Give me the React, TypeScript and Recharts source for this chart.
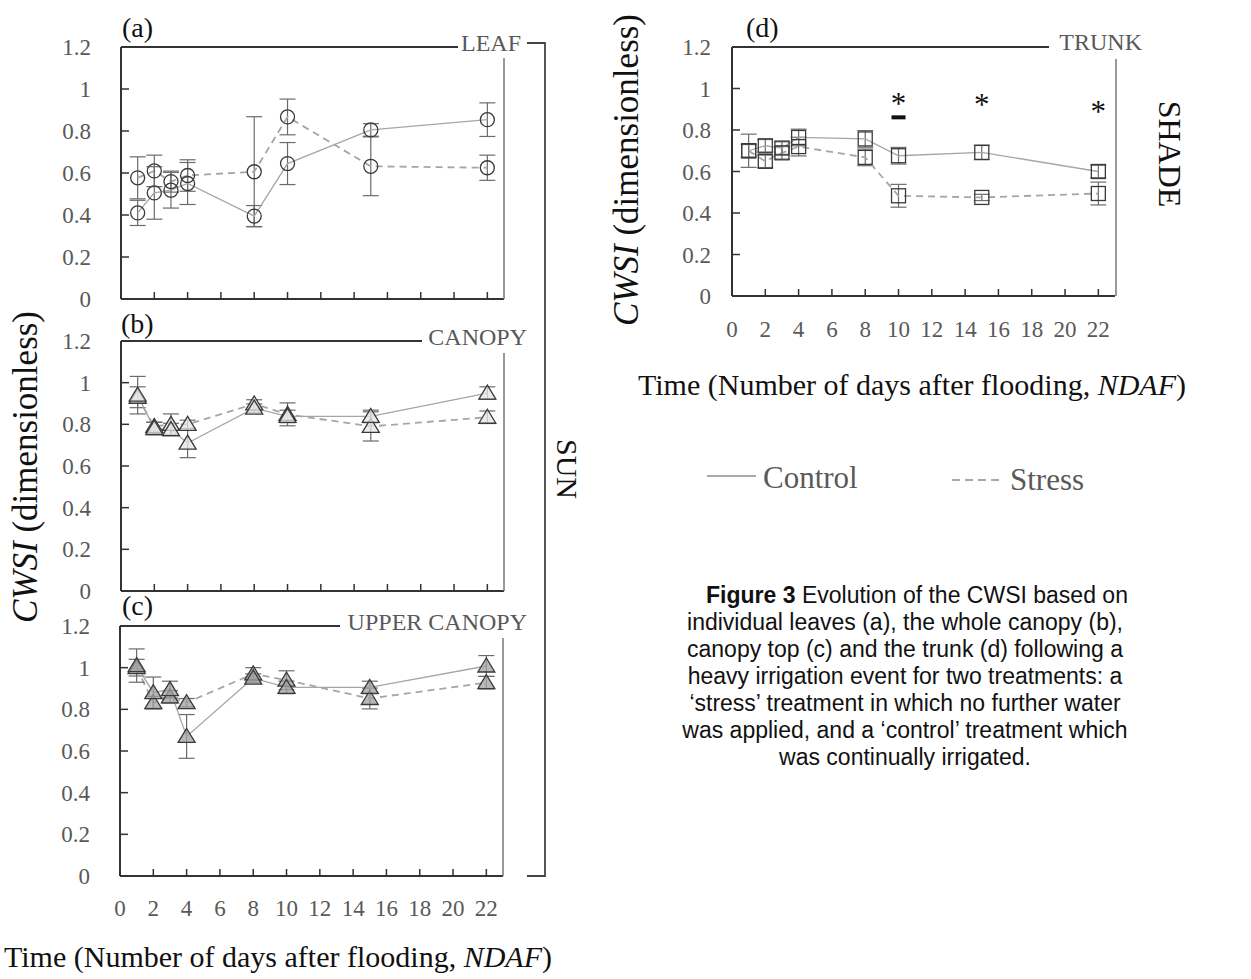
import React from 'react';
import { ComposedChart, Line, Scatter, XAxis, YAxis, ErrorBar } from 'recharts';

// sampling days after flooding
const days = [1, 2, 3, 4, 8, 10, 15, 22];

// (a) leaf
const leafControl = [0.41, 0.505, 0.518, 0.55, 0.395, 0.645, 0.805, 0.854];
const leafControlErr = [0.06, 0.125, 0.085, 0.1, 0.05, 0.1, 0.03, 0.08];
const leafStress = [0.577, 0.61, 0.559, 0.588, 0.606, 0.867, 0.632, 0.625];
const leafStressErr = [0.1, 0.075, 0.05, 0.075, 0.262, 0.085, 0.14, 0.06];

// (b) canopy
const canopyControl = [0.94, 0.78, 0.775, 0.71, 0.878, 0.838, 0.838, 0.95];
const canopyControlErr = [0.09, 0.03, 0.03, 0.07, 0.02, 0.03, 0.03, 0.03];
const canopyStress = [0.93, 0.79, 0.8, 0.8, 0.898, 0.848, 0.79, 0.834];
const canopyStressErr = [0.05, 0.02, 0.05, 0.02, 0.02, 0.055, 0.07, 0.03];

// (c) upper canopy
const upperControl = [1.01, 0.88, 0.895, 0.67, 0.95, 0.905, 0.905, 1.008];
const upperControlErr = [0.08, 0.075, 0.04, 0.105, 0.02, 0.03, 0.03, 0.05];
const upperStress = [1.0, 0.832, 0.86, 0.832, 0.97, 0.94, 0.852, 0.928];
const upperStressErr = [0.04, 0.03, 0.03, 0.02, 0.03, 0.045, 0.05, 0.03];

// (d) trunk
const trunkControl = [0.7, 0.724, 0.713, 0.764, 0.757, 0.676, 0.692, 0.6];
const trunkControlErr = [0.08, 0.03, 0.03, 0.04, 0.04, 0.04, 0.035, 0.03];
const trunkStress = [0.7, 0.649, 0.69, 0.72, 0.668, 0.483, 0.475, 0.494];
const trunkStressErr = [0.03, 0.03, 0.03, 0.045, 0.04, 0.055, 0.015, 0.055];

// significant differences in the trunk panel
const sigDays = [10, 15, 22];
const sigLevel = [0.941, 0.936, 0.9];
const barDays = [10];
const barLevel = [0.861];

const xTicks = [0, 2, 4, 6, 8, 10, 12, 14, 16, 18, 20, 22];
const yTicks = [0, 0.2, 0.4, 0.6, 0.8, 1, 1.2];

const captionLines = [
  'individual leaves (a), the whole canopy (b),',
  'canopy top (c) and the trunk (d) following a',
  'heavy irrigation event for two treatments: a',
  '\u2018stress\u2019 treatment in which no further water',
  'was applied, and a \u2018control\u2019 treatment which',
  'was continually irrigated.',
];

const SERIF = "'Liberation Serif', 'Times New Roman', serif";
const SANS = "'Liberation Sans', Arial, sans-serif";
const AXIS = '#333';
const MARK = '#3a3a3a';
const SERIES = '#a6a6a6';
const TICK_TEXT = '#595959';

const Y_W = 70;
const M_TOP = 20;
const M_RIGHT = 5;
const X_H = 50;
const PLOT_W = 383;
const TM = 10;

type Row = { day: number; control: number; controlErr: number; stress: number; stressErr: number };

const buildRows = (c: number[], ce: number[], s: number[], se: number[]): Row[] =>
  days.map((day, i) => ({ day, control: c[i], controlErr: ce[i], stress: s[i], stressErr: se[i] }));

const leafRows = buildRows(leafControl, leafControlErr, leafStress, leafStressErr);
const canopyRows = buildRows(canopyControl, canopyControlErr, canopyStress, canopyStressErr);
const upperRows = buildRows(upperControl, upperControlErr, upperStress, upperStressErr);
const trunkRows = buildRows(trunkControl, trunkControlErr, trunkStress, trunkStressErr);
const sigRows = sigDays.map((day, i) => ({ day, level: sigLevel[i] }));
const barRows = barDays.map((day, i) => ({ day, level: barLevel[i] }));

type MarkerKind = 'circle' | 'triangle' | 'square';

const renderMarker = (kind: MarkerKind, fill: string) => (p: any) => {
  const { cx, cy, index, dataKey } = p;
  const key = `${dataKey}-${index}`;
  if (cx == null || cy == null) return <g key={key} />;
  if (kind === 'circle') {
    return <circle key={key} cx={cx} cy={cy} r={7} fill="none" stroke={MARK} strokeWidth={1.3} />;
  }
  if (kind === 'triangle') {
    return (
      <polygon
        key={key}
        points={`${cx},${cy - 8} ${cx - 8.5},${cy + 6} ${cx + 8.5},${cy + 6}`}
        fill={fill}
        fillOpacity={0.75}
        stroke={MARK}
        strokeWidth={1.3}
      />
    );
  }
  return <rect key={key} x={cx - 7} y={cy - 7} width={14} height={14} fill="none" stroke={MARK} strokeWidth={1.3} />;
};

// ticks point inwards, labels sit outside the frame
const XTick = ({ x, y, payload, show, labelDrop }: any) => {
  const axisY = y - TM;
  return (
    <g>
      <line x1={x} y1={axisY} x2={x} y2={axisY - 7} stroke={AXIS} strokeWidth={1.5} />
      {show && (
        <text x={x} y={axisY + labelDrop} textAnchor="middle" fontFamily={SERIF} fontSize={23} fill={TICK_TEXT}>
          {payload.value}
        </text>
      )}
    </g>
  );
};

const YTick = ({ x, y, payload, gap }: any) => {
  const axisX = x + TM;
  return (
    <g>
      <line x1={axisX} y1={y} x2={axisX + 8} y2={y} stroke={AXIS} strokeWidth={1.5} />
      <text x={axisX - gap} y={y} dy="0.35em" textAnchor="end" fontFamily={SERIF} fontSize={23} fill={TICK_TEXT}>
        {payload.value}
      </text>
    </g>
  );
};

type PanelProps = {
  rows: Row[];
  marker: MarkerKind;
  fill?: string;
  left: number;
  top: number;
  plotH: number;
  labelGap: number;
  showXLabels?: boolean;
  labelDrop?: number;
  children?: React.ReactNode;
};

const Panel = ({ rows, marker, fill = 'none', left, top, plotH, labelGap, showXLabels = false, labelDrop = 40, children }: PanelProps) => (
  <div style={{ position: 'absolute', left: left - Y_W, top: top - M_TOP }}>
    <ComposedChart
      width={Y_W + PLOT_W + M_RIGHT}
      height={M_TOP + plotH + X_H}
      data={rows}
      margin={{ top: M_TOP, right: M_RIGHT, bottom: 0, left: 0 }}
    >
      <XAxis
        type="number"
        dataKey="day"
        domain={[0, 23]}
        ticks={xTicks}
        interval={0}
        tickSize={0}
        tickMargin={TM}
        height={X_H}
        axisLine={{ stroke: AXIS, strokeWidth: 2 }}
        tick={(p: any) => <XTick {...p} show={showXLabels} labelDrop={labelDrop} />}
      />
      <YAxis
        type="number"
        domain={[0, 1.2]}
        ticks={yTicks}
        interval={0}
        tickSize={0}
        tickMargin={TM}
        width={Y_W}
        axisLine={{ stroke: AXIS, strokeWidth: 2 }}
        tick={(p: any) => <YTick {...p} gap={labelGap} />}
      />
      <Line
        type="linear"
        dataKey="stress"
        stroke={SERIES}
        strokeWidth={1.8}
        strokeDasharray="7 5"
        dot={renderMarker(marker, fill)}
        activeDot={false}
        isAnimationActive={false}
      >
        <ErrorBar dataKey="stressErr" direction="y" width={8} stroke="#6b6b6b" strokeWidth={1.2} />
      </Line>
      <Line
        type="linear"
        dataKey="control"
        stroke={SERIES}
        strokeWidth={1.3}
        dot={renderMarker(marker, fill)}
        activeDot={false}
        isAnimationActive={false}
      >
        <ErrorBar dataKey="controlErr" direction="y" width={8} stroke="#6b6b6b" strokeWidth={1.2} />
      </Line>
      {children}
    </ComposedChart>
  </div>
);

// partial frame lines, the SUN bracket, and the panel captions
const frameLines = [
  'M121,47 H458', 'M504,58 V299',
  'M121,341 H422', 'M504,353 V591',
  'M120,626 H340', 'M503,638 V876',
  'M732,47 H1049', 'M1116,59 V296',
];

const Overlay = () => (
  <svg width={1251} height={979} style={{ position: 'absolute', left: 0, top: 0, pointerEvents: 'none' }}>
    {frameLines.map((d) => (
      <path key={d} d={d} stroke={d.includes('V') ? '#777' : AXIS} strokeWidth={d.includes('V') ? 1.5 : 1.8} fill="none" />
    ))}
    <path d="M527,43 H545 V876 H527" stroke="#444" strokeWidth={1.8} fill="none" />

    <g fontFamily={SERIF} fontSize={28} fill="#111">
      <text x={122} y={37}>(a)</text>
      <text x={121} y={333}>(b)</text>
      <text x={122} y={615}>(c)</text>
      <text x={746} y={37}>(d)</text>
    </g>
    <g fontFamily={SERIF} fontSize={24} fill={TICK_TEXT} textAnchor="end">
      <text x={521} y={51}>LEAF</text>
      <text x={527} y={345}>CANOPY</text>
      <text x={527} y={630}>UPPER CANOPY</text>
      <text x={1142} y={50}>TRUNK</text>
    </g>
    <g fontFamily={SERIF} fill="#111" textAnchor="middle">
      <text transform="translate(557,469) rotate(90)" fontSize={30}>SUN</text>
      <text transform="translate(1159,154) rotate(90)" fontSize={32}>SHADE</text>
      <text transform="translate(37,467) rotate(-90)" fontSize={35}>
        <tspan fontStyle="italic">CWSI</tspan> (dimensionless)
      </text>
      <text transform="translate(638,170) rotate(-90)" fontSize={35}>
        <tspan fontStyle="italic">CWSI</tspan> (dimensionless)
      </text>
      <text x={278} y={967} fontSize={30}>
        Time (Number of days after flooding, <tspan fontStyle="italic">NDAF</tspan>)
      </text>
      <text x={912} y={395} fontSize={30}>
        Time (Number of days after flooding, <tspan fontStyle="italic">NDAF</tspan>)
      </text>
    </g>

    <line x1={707} y1={476} x2={756} y2={476} stroke="#8c8c8c" strokeWidth={1.5} />
    <line x1={952} y1={480} x2={1004} y2={480} stroke="#8c8c8c" strokeWidth={1.5} strokeDasharray="8 5" />
    <g fontFamily={SERIF} fontSize={31} fill={TICK_TEXT}>
      <text x={763} y={488}>Control</text>
      <text x={1010} y={490}>Stress</text>
    </g>

    <g fontFamily={SANS} fontSize={23} fill="#111" textAnchor="middle">
      <text x={917} y={603}>
        <tspan fontWeight="bold">Figure 3</tspan> Evolution of the CWSI based on
      </text>
      {captionLines.map((line, i) => (
        <text key={line} x={905} y={630 + i * 27}>{line}</text>
      ))}
    </g>
  </svg>
);

const star = (p: any) =>
  p.cx == null ? <g /> : (
    <text x={p.cx} y={p.cy} dy="0.42em" textAnchor="middle" fontFamily={SERIF} fontSize={31} fill="#111">*</text>
  );

const dash = (p: any) =>
  p.cx == null ? <g /> : <rect x={p.cx - 7} y={p.cy - 2} width={14} height={4} fill="#111" />;

export default function App() {
  return (
    <div style={{ position: 'absolute', left: 0, top: 0, width: 1251, height: 979, background: '#fff', overflow: 'hidden' }}>
      <Panel rows={leafRows} marker="circle" left={121} top={47} plotH={252} labelGap={30} />
      <Panel rows={canopyRows} marker="triangle" fill="#e4e4e4" left={121} top={341} plotH={250} labelGap={30} />
      <Panel rows={upperRows} marker="triangle" fill="#a0a0a0" left={120} top={626} plotH={250} labelGap={30} showXLabels />
      <Panel rows={trunkRows} marker="square" left={732} top={47} plotH={249} labelGap={21} showXLabels labelDrop={41}>
        <Scatter data={sigRows} dataKey="level" shape={star} isAnimationActive={false} />
        <Scatter data={barRows} dataKey="level" shape={dash} isAnimationActive={false} />
      </Panel>
      <Overlay />
    </div>
  );
}
